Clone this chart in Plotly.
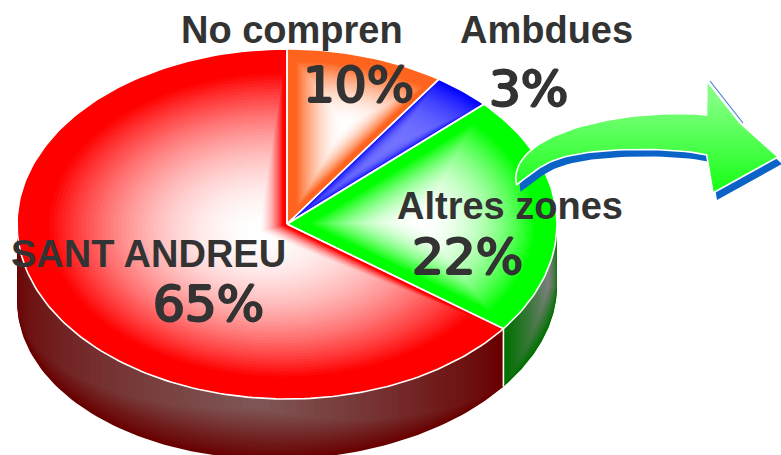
import numpy as np
import plotly.graph_objects as go

# Data (shares as they are drawn, clockwise from 12 o'clock)
categories = ["No compren", "Ambdues", "Altres zones", "SANT ANDREU"]
percent_labels = ["10%", "3%", "22%", "65%"]
drawn_shares = [9.5, 3.5, 22.2, 64.8]

# Style / geometry
W, H = 781, 455
CX, CY, RX, RY = 287, 224, 270, 175
BOT_YC, BOT_RY, BOT_TILT = 293.6, 165.7, -0.0279
top_edge = [(255, 100, 30), (0, 0, 255), (0, 255, 0), (255, 0, 0)]
top_core = [(255, 255, 255), (115, 115, 255), (255, 255, 255), (255, 255, 255)]
top_focus = [(345, 125), (392, 146), (420, 222), (258, 232)]
top_hold = [0.85, 1.0, 0.85, 0.88]
top_gamma = [2.0, 2.6, 2.0, 1.9]
TEXT = "#333333"
label_pos = [(292, 30), (546, 30), (510, 206), (148, 254)]
pct_pos = [(358, 85), (528, 89), (467, 257), (208, 304)]
LAYERS = 60

fig = go.Figure()


def mix(a, b, f):
    c = [int(round(a[i] * f + b[i] * (1 - f))) for i in range(3)]
    return f"rgb({c[0]},{c[1]},{c[2]})"


def top_xy(t):
    return CX + RX * np.sin(t), CY - RY * np.cos(t)


def bottom_xy(t):
    dx = RX * np.sin(t)
    return CX + dx, BOT_YC - BOT_RY * np.cos(t) + BOT_TILT * dx


def add_poly(x, y, color):
    fig.add_trace(go.Scatter(x=x, y=y, mode="lines", fill="toself", fillcolor=color,
                             line=dict(width=0, color=color), hoverinfo="skip", showlegend=False))


def layered(x, y, focus, edge, core, hold, gamma=1.2, layers=LAYERS):
    for k in range(layers):
        s = 1 - k / layers
        f = min(1.0, (s / hold)) ** gamma
        add_poly(focus[0] + (x - focus[0]) * s, focus[1] + (y - focus[1]) * s, mix(edge, core, f))


def wall(t0, t1, t_core, v_core, edge, core, layers=45, gamma=1.0):
    for k in range(layers):
        s = 1 - k / layers
        t = np.linspace(t_core - s * (t_core - t0), t_core + s * (t1 - t_core), 90)
        xt, yt = top_xy(t)
        xb, yb = bottom_xy(t)
        v = v_core + (1 - v_core) * s
        xl, yl = xt + (xb - xt) * v, yt + (yb - yt) * v
        add_poly(np.concatenate([xt, xl[::-1]]), np.concatenate([yt, yl[::-1]]), mix(edge, core, s ** gamma))


bounds = np.radians(np.concatenate([[0], np.cumsum(drawn_shares)]) * 3.6)

# Side walls: green wall, red wall
wall(bounds[3], np.pi / 2, bounds[3] - np.radians(22), 0.3, (0, 112, 0), (128, 128, 128))
wall(bounds[3], 1.5 * np.pi, np.radians(186), 0.15, (105, 0, 0), (128, 88, 88))

# Top surface
for i in range(4):
    t = np.linspace(bounds[i], bounds[i + 1], max(12, int(drawn_shares[i] * 3)))
    ex, ey = top_xy(t)
    x = np.concatenate([[CX], ex, [CX]])
    y = np.concatenate([[CY], ey, [CY]])
    layered(x, y, top_focus[i], top_edge[i], top_core[i], top_hold[i], top_gamma[i])

# White outlines
for i in range(4):
    t = np.linspace(bounds[i], bounds[i + 1], max(12, int(drawn_shares[i] * 3)))
    ex, ey = top_xy(t)
    fig.add_trace(go.Scatter(x=np.concatenate([[CX], ex, [CX]]), y=np.concatenate([[CY], ey, [CY]]),
                             mode="lines", line=dict(color="white", width=1.6),
                             hoverinfo="skip", showlegend=False))
xt3, yt3 = top_xy(bounds[3])
xb3, yb3 = bottom_xy(bounds[3])
fig.add_trace(go.Scatter(x=[xt3, xb3], y=[yt3, yb3], mode="lines",
                         line=dict(color="white", width=1.6), hoverinfo="skip", showlegend=False))

# Arrow decoration: smooth upper and lower shaft edges, straight-ish head
upper_x = [516, 523, 543, 583, 633, 673, 707]
upper_y = [185, 160, 142, 125, 116, 114, 115]
lower_x = [707, 667, 627, 583, 557, 537, 516]
lower_y = [155, 150, 150, 153, 159, 170, 185]
head_x = [707, 720, 740, 778, 713]
head_y = [81, 98, 123, 157, 193]


def smooth(xs, ys, deg=4, n=40):
    u = np.linspace(0, 1, len(xs))
    uu = np.linspace(0, 1, n)
    px = np.polyfit(u, xs, deg)
    py = np.polyfit(u, ys, deg)
    return np.polyval(px, uu), np.polyval(py, uu)


ux, uy = smooth(upper_x, upper_y)
lx, ly = smooth(lower_x, lower_y)
ax = np.concatenate([ux, head_x, lx, ux[:1]])
ay = np.concatenate([uy, head_y, ly, uy[:1]])
hx, hy = np.array(head_x[:3], float), np.array(head_y[:3], float)
fig.add_trace(go.Scatter(x=hx + 3, y=hy, mode="lines", line=dict(color="#4a80d8", width=1.2),
                         hoverinfo="skip", showlegend=False))
fig.add_trace(go.Scatter(x=ax + 4, y=ay + 7, mode="lines", fill="toself", fillcolor="#0a64c8",
                         line=dict(width=0, color="#0a64c8"), hoverinfo="skip", showlegend=False))
fig.add_trace(go.Scatter(x=ax, y=ay, mode="lines", fill="toself",
                         fillgradient=dict(type="vertical", start=100, stop=190,
                                           colorscale=[[0, "#80ff80"], [1, "#18ff18"]]),
                         line=dict(width=1.6, color="white"), hoverinfo="skip", showlegend=False))

# Text
for i in range(4):
    fig.add_annotation(x=label_pos[i][0], y=label_pos[i][1], text=f"<b>{categories[i]}</b>", showarrow=False,
                       xanchor="center", yanchor="middle",
                       font=dict(family="Liberation Sans", size=38, color=TEXT))
    fig.add_annotation(x=pct_pos[i][0], y=pct_pos[i][1], text=percent_labels[i], showarrow=False,
                       xanchor="center", yanchor="middle",
                       font=dict(family="DejaVu Sans", size=50, color=TEXT,
                                 shadow="1.2px 0 0 #333333, -1.2px 0 0 #333333, 0 0.8px 0 #333333, 0 -0.8px 0 #333333"))

fig.update_layout(width=W, height=H, margin=dict(l=0, r=0, t=0, b=0), paper_bgcolor="white",
                  plot_bgcolor="white", showlegend=False,
                  xaxis=dict(range=[0, W], visible=False, fixedrange=True),
                  yaxis=dict(range=[H, 0], visible=False, fixedrange=True))
fig.write_html("out.html", config={"displayModeBar": False},
               post_script="document.body.style.margin='0';document.body.style.overflow='hidden';")
